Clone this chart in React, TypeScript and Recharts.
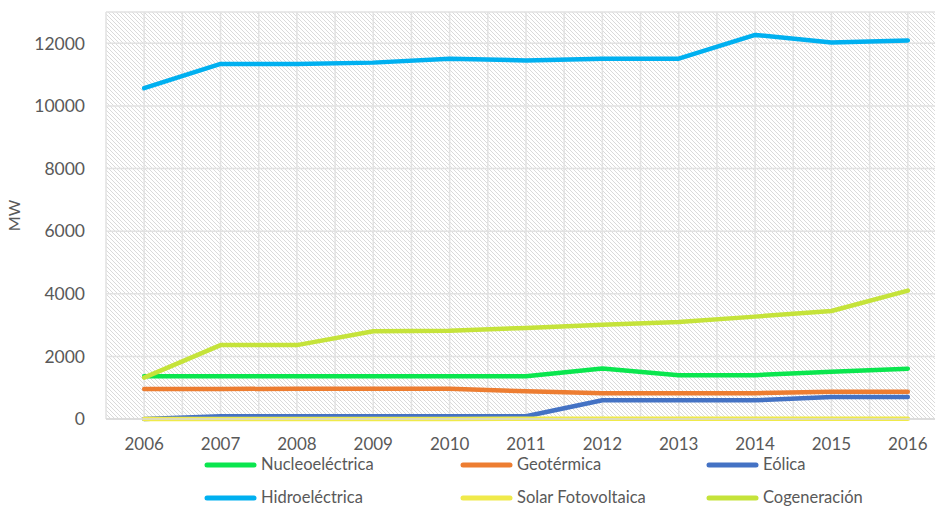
import React from 'react';
import { LineChart, Line, XAxis, YAxis, CartesianGrid, Legend } from 'recharts';

const years = [2006, 2007, 2008, 2009, 2010, 2011, 2012, 2013, 2014, 2015, 2016];
const nucleo = [1365, 1365, 1365, 1365, 1365, 1365, 1610, 1400, 1400, 1510, 1608];
const geo = [960, 960, 965, 965, 965, 887, 823, 823, 823, 874, 874];
const eolica = [2, 85, 85, 85, 85, 87, 598, 598, 598, 699, 699];
const hidro = [10566, 11343, 11343, 11383, 11503, 11453, 11509, 11510, 12269, 12028, 12092];
const solar = [1, 1, 1, 1, 1, 6, 6, 6, 6, 6, 6];
const cogen = [1320, 2360, 2360, 2800, 2820, 2910, 3010, 3100, 3270, 3450, 4100];
const yTicks = [0, 2000, 4000, 6000, 8000, 10000, 12000];

const series = [
  { key: 'nucleo', name: 'Nucleoeléctrica', color: '#0ae64e', values: nucleo },
  { key: 'geo', name: 'Geotérmica', color: '#ed7d31', values: geo },
  { key: 'eolica', name: 'Eólica', color: '#4472c4', values: eolica },
  { key: 'hidro', name: 'Hidroeléctrica', color: '#00b0f0', values: hidro },
  { key: 'solar', name: 'Solar Fotovoltaica', color: '#f0ea4a', values: solar },
  { key: 'cogen', name: 'Cogeneración', color: '#c5e33a', values: cogen },
];

const data = years.map((year, i) => {
  const row: Record<string, number> = { year };
  series.forEach((s) => {
    row[s.key] = s.values[i];
  });
  return row;
});

const xTicks = [...years.map((y) => y - 0.5), years[years.length - 1] + 0.5].flatMap((v, i) =>
  i < years.length ? [v, years[i]] : [v]
);

const FONT = "Lato, 'Open Sans', sans-serif";
const TEXT = '#595959';

const colWidths = [256, 246, 200];

const renderLegend = () => (
  <div
    style={{
      display: 'grid',
      gridTemplateColumns: colWidths.map((w) => `${w}px`).join(' '),
      rowGap: '14px',
      paddingLeft: '204px',
      paddingTop: '17px',
      fontFamily: FONT,
      fontSize: '16.5px',
      lineHeight: '19px',
      color: TEXT,
    }}
  >
    {series.map((s) => (
      <div key={s.key} style={{ display: 'flex', alignItems: 'center', height: '19px' }}>
        <svg width={53} height={8} style={{ marginRight: '4px' }}>
          <line x1={3} y1={4} x2={50} y2={4} stroke={s.color} strokeWidth={5} strokeLinecap="round" />
        </svg>
        <span>{s.name}</span>
      </div>
    ))}
  </div>
);

export default function App() {
  return (
    <div style={{ position: 'absolute', left: 0, top: 0, width: 935, height: 508, overflow: 'hidden', background: '#fff' }}>
      <LineChart width={960} height={508} data={data} margin={{ top: 12, right: 14, bottom: 0, left: 0 }}>
        <defs>
          <pattern id="hatch" width={4} height={4} patternUnits="userSpaceOnUse">
            <rect x={0} y={0} width={4} height={4} fill="#ffffff" />
            <rect x={0} y={0} width={1} height={1} fill="#dadada" shapeRendering="crispEdges" />
            <rect x={1} y={1} width={1} height={1} fill="#dadada" shapeRendering="crispEdges" />
            <rect x={2} y={2} width={1} height={1} fill="#dadada" shapeRendering="crispEdges" />
            <rect x={3} y={3} width={1} height={1} fill="#dadada" shapeRendering="crispEdges" />
          </pattern>
        </defs>
        <CartesianGrid fill="url(#hatch)" fillOpacity={1} stroke="#e2e2e2" strokeWidth={1.5} />
        <XAxis
          dataKey="year"
          type="number"
          domain={[2005.5, 2016.5]}
          ticks={xTicks}
          interval={0}
          tickFormatter={(v: number) => (Number.isInteger(v) ? String(v) : '')}
          tickLine={false}
          tickSize={0}
          tickMargin={19}
          height={19}
          axisLine={{ stroke: '#d9d9d9', strokeWidth: 1.5 }}
          tick={{ fill: TEXT, fontSize: 17, fontFamily: FONT }}
        />
        <YAxis
          type="number"
          domain={[0, 13000]}
          ticks={yTicks}
          interval={0}
          width={106}
          tickLine={false}
          axisLine={false}
          tickSize={0}
          tickMargin={21}
          tick={{ fill: TEXT, fontSize: 17.5, fontFamily: FONT }}
          label={{
            value: 'MW',
            angle: -90,
            position: 'insideLeft',
            offset: 14,
            style: { textAnchor: 'middle', fill: TEXT, fontSize: 16, fontFamily: FONT },
          }}
        />
        <Legend verticalAlign="bottom" height={70} content={renderLegend} />
        {series.map((s) => (
          <Line
            key={s.key}
            type="linear"
            dataKey={s.key}
            name={s.name}
            stroke={s.color}
            strokeWidth={4.5}
            strokeLinecap="round"
            strokeLinejoin="round"
            dot={false}
            activeDot={false}
            isAnimationActive={false}
          />
        ))}
      </LineChart>
    </div>
  );
}
